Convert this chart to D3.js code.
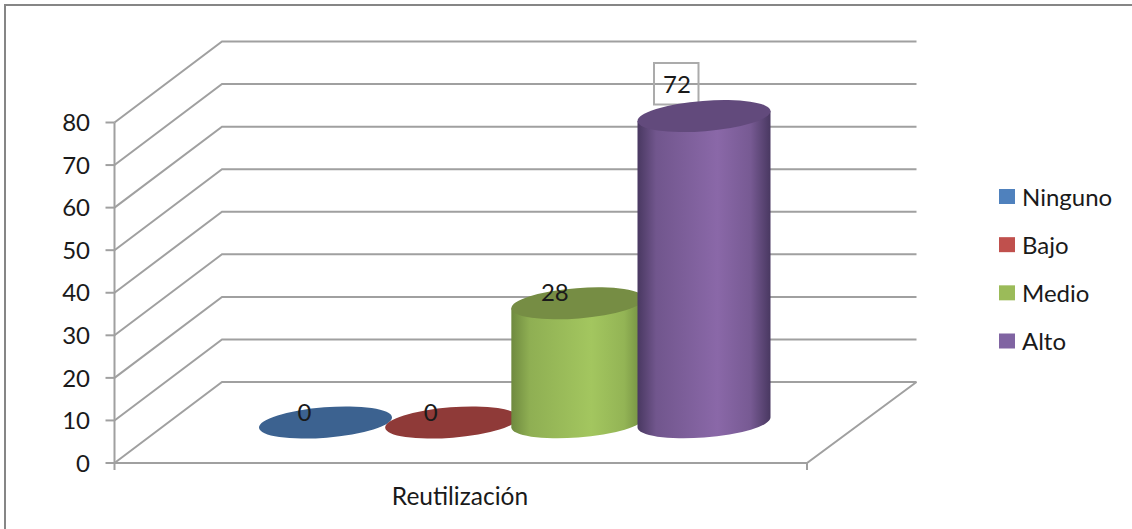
<!DOCTYPE html>
<html>
<head>
<meta charset="utf-8">
<script src="https://cdn.jsdelivr.net/npm/d3@7"></script>
<style>
  html, body { margin: 0; padding: 0; background: #fff; }
  svg { display: block; }
  text { font-family: Lato, "Open Sans", sans-serif; fill: #1a1a1a; }
</style>
</head>
<body>
<svg id="chart" width="1132" height="529"></svg>
<script>
// Chart content
const seriesNames = ["Ninguno", "Bajo", "Medio", "Alto"];
const seriesValues = [0, 0, 28, 72];
const categoryLabel = "Reutilización";
const yTicks = [0, 10, 20, 30, 40, 50, 60, 70, 80];

// Series palette: side (edge, mid), top face, legend swatch
const sideEdge = ["#2f4f78", "#7a302e", "#6f8a3f", "#493861"];
const sideMid = ["#4a7ebb", "#be4b48", "#a3c65f", "#8a68a8"];
const topFace = ["#3c6290", "#8f3a38", "#768d44", "#624a7c"];
const swatch = ["#4f81bd", "#c0504d", "#9bbb59", "#8064a2"];

const svg = d3.select("#chart");
const gridColor = "#a0a0a0";

// Front plane scale; the back wall is the same scale shifted by the depth offset
const y = d3.scaleLinear().domain([0, 80]).range([463, 122.5]);
const frontX = 114.5, floorRight = 807;
const backLeft = 222, backRight = 916.5, depthY = -81;

// Cylinders stand on a common floor line; position along it by series
const cx = d3.scalePoint().domain(seriesNames).range([325.5, 704]);
const baseY = 422.5;
const rx = 66.7, ry = 15.2, tilt = -4.5;
const tangentDx = 66.5, tangentDy = 5;

// Chart frame (open at the bottom and right)
svg.append("path")
  .attr("d", d3.line()([[5, 529], [5, 5], [1132, 5]]))
  .attr("fill", "none").attr("stroke", "#868686").attr("stroke-width", 2);

// Gridlines running along the side wall and the back wall
const grid = svg.append("g").attr("fill", "none").attr("stroke", gridColor).attr("stroke-width", 2);
grid.selectAll("path.gridline").data(yTicks).join("path")
  .attr("class", "gridline")
  .attr("d", t => d3.line()([
    [frontX, y(t)],
    [backLeft, y(t) + depthY],
    [backRight, y(t) + depthY]
  ]));

// Floor outline
grid.append("path").attr("d", d3.line()([
  [frontX, y(0)], [floorRight, y(0)], [backRight, y(0) + depthY]
]));

// Vertical axis with outward ticks
grid.append("path").attr("d", d3.line()([[frontX, y(80)], [frontX, y(0) + 7]]));
grid.append("path").attr("d", d3.line()([[floorRight, y(0)], [floorRight, y(0) + 7]]));
grid.selectAll("path.tick").data(yTicks).join("path")
  .attr("class", "tick")
  .attr("d", t => d3.line()([[frontX - 9, y(t)], [frontX, y(t)]]));

svg.append("g").selectAll("text").data(yTicks).join("text")
  .attr("x", 90).attr("y", t => y(t))
  .attr("dy", "0.36em").attr("text-anchor", "end")
  .attr("font-size", 24).text(d => d);

svg.append("text")
  .attr("x", 460).attr("y", 505)
  .attr("text-anchor", "middle").attr("font-size", 24.5)
  .text(categoryLabel);

// Horizontal shading across each cylinder side
const defs = svg.append("defs");
seriesNames.forEach((name, i) => {
  const g = defs.append("linearGradient").attr("id", "side" + i)
    .attr("x1", 0).attr("x2", 1).attr("y1", 0).attr("y2", 0);
  [[0, sideEdge[i]], [0.14, d3.interpolateRgb(sideEdge[i], sideMid[i])(0.62)],
   [0.6, sideMid[i]], [0.85, d3.interpolateRgb(sideEdge[i], sideMid[i])(0.7)],
   [1, sideEdge[i]]].forEach(([o, c]) => g.append("stop").attr("offset", o).attr("stop-color", c));
});

// Boxed value label sits behind the tallest cylinder's lip
const boxIndex = seriesNames.indexOf("Alto");
svg.append("rect")
  .attr("x", cx(seriesNames[boxIndex]) - 50).attr("y", 63)
  .attr("width", 44.5).attr("height", 41.5)
  .attr("fill", "none").attr("stroke", "#ababab").attr("stroke-width", 2);

// Cylinders, back to front along the series order
const bars = svg.append("g").selectAll("g").data(seriesValues).join("g");
bars.each(function (v, i) {
  const g = d3.select(this);
  const c = cx(seriesNames[i]);
  const topY = baseY - (y(0) - y(v));
  if (v > 0) {
    g.append("path")
      .attr("fill", `url(#side${i})`)
      .attr("d", `M${c - tangentDx},${topY + tangentDy}` +
        `L${c - tangentDx},${baseY + tangentDy}` +
        `A${rx},${ry} ${tilt} 0 0 ${c + tangentDx},${baseY - tangentDy}` +
        `L${c + tangentDx},${topY - tangentDy}Z`);
  }
  g.append("ellipse")
    .attr("cx", c).attr("cy", topY).attr("rx", rx).attr("ry", ry)
    .attr("transform", `rotate(${tilt} ${c} ${topY})`)
    .attr("fill", topFace[i]);
});

// Value labels
const labelOffset = [-21, -21, -23, -27];
const labelY = [412, 412, 292, 84];
svg.append("g").selectAll("text").data(seriesValues).join("text")
  .attr("x", (v, i) => cx(seriesNames[i]) + labelOffset[i])
  .attr("y", (v, i) => labelY[i])
  .attr("dy", "0.36em").attr("text-anchor", "middle")
  .attr("font-size", 24).text(d => d);

// Legend
const legendY = d3.scalePoint().domain(seriesNames).range([197, 341.5]);
const legend = svg.append("g").selectAll("g").data(seriesNames).join("g")
  .attr("transform", d => `translate(999,${legendY(d)})`);
legend.append("rect").attr("x", 0).attr("y", -8).attr("width", 16).attr("height", 15)
  .attr("fill", (d, i) => swatch[i]);
legend.append("text").attr("x", 23).attr("y", 0).attr("dy", "0.36em")
  .attr("font-size", 24).text(d => d);
</script>
</body>
</html>
